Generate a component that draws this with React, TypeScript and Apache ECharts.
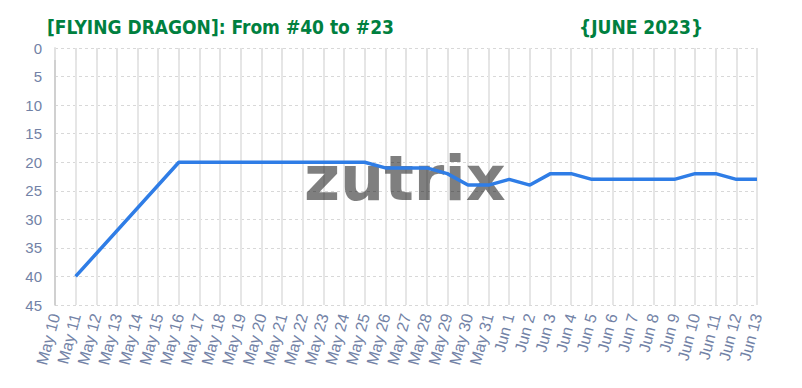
import React, { useEffect, useRef } from "react";
import * as echarts from "echarts";

const categories: string[] = [
  "May 10", "May 11", "May 12", "May 13", "May 14", "May 15", "May 16", "May 17", "May 18", "May 19",
  "May 20", "May 21", "May 22", "May 23", "May 24", "May 25", "May 26", "May 27", "May 28", "May 29",
  "May 30", "May 31", "Jun 1", "Jun 2", "Jun 3", "Jun 4", "Jun 5", "Jun 6", "Jun 7", "Jun 8",
  "Jun 9", "Jun 10", "Jun 11", "Jun 12", "Jun 13",
];

const ranks: (number | null)[] = [
  null, 40, null, null, null, null, 20, 20, 20, 20,
  20, 20, 20, 20, 20, 20, 21, 21, 21, 22,
  24, 24, 23, 24, 22, 22, 23, 23, 23, 23,
  23, 22, 22, 23, 23,
];

const titleText = "[FLYING DRAGON]: From #40 to #23";
const periodText = "{JUNE 2023}";
const watermarkText = "zutrix";

export default function App() {
  const ref = useRef<HTMLDivElement>(null);
  useEffect(() => {
    if (!ref.current) return;
    const chart = echarts.init(ref.current, undefined, { renderer: "svg" });
    const labelColor = "#7282a6";
    chart.setOption({
      animation: false,
      backgroundColor: "#ffffff",
      grid: { left: 47, right: 37, top: 40, bottom: 91 },
      xAxis: {
        type: "category",
        data: categories,
        boundaryGap: false,
        axisLine: { show: false },
        axisTick: { show: true, length: 12, lineStyle: { color: "#e2e2e2", width: 2 } },
        axisLabel: {
          rotate: 75,
          interval: 0,
          color: labelColor,
          fontFamily: "Liberation Sans, Arial, sans-serif",
          fontSize: 16,
          margin: 9,
        },
        splitLine: { show: true, lineStyle: { color: "#e6e6e6", width: 2 } },
      },
      yAxis: {
        type: "value",
        inverse: true,
        min: 0,
        max: 45,
        interval: 5,
        axisLine: { show: true, lineStyle: { color: "#c8c8c8", width: 1.5 } },
        axisTick: { show: false },
        axisLabel: {
          color: labelColor,
          fontFamily: "Liberation Sans, Arial, sans-serif",
          fontSize: 15,
          margin: 13,
        },
        splitLine: { show: true, lineStyle: { color: "#d8d8d8", type: [3, 3], width: 1 } },
      },
      graphic: [
        {
          type: "text",
          left: 39,
          top: 9,
          z: 10,
          style: {
            text: titleText,
            fill: "#00803f",
            font: "bold 19px 'DejaVu Sans Condensed', 'Liberation Sans Narrow', sans-serif",
          },
        },
        {
          type: "text",
          left: 571,
          top: 9,
          z: 10,
          style: {
            text: periodText,
            fill: "#00803f",
            font: "bold 19px 'DejaVu Sans Condensed', 'Liberation Sans Narrow', sans-serif",
          },
        },
        {
          type: "text",
          left: 296,
          top: 139,
          z: 1,
          style: {
            text: watermarkText,
            fill: "rgba(0,0,0,0.5)",
            font: "bold 62px 'DejaVu Sans', sans-serif",
          },
        },
      ],
      series: [
        {
          type: "line",
          data: ranks,
          connectNulls: true,
          showSymbol: false,
          symbol: "none",
          z: 5,
          lineStyle: { color: "#2f7de6", width: 3.5 },
        },
      ],
    });
    return () => chart.dispose();
  }, []);
  return <div ref={ref} style={{ width: 786, height: 388 }} />;
}
